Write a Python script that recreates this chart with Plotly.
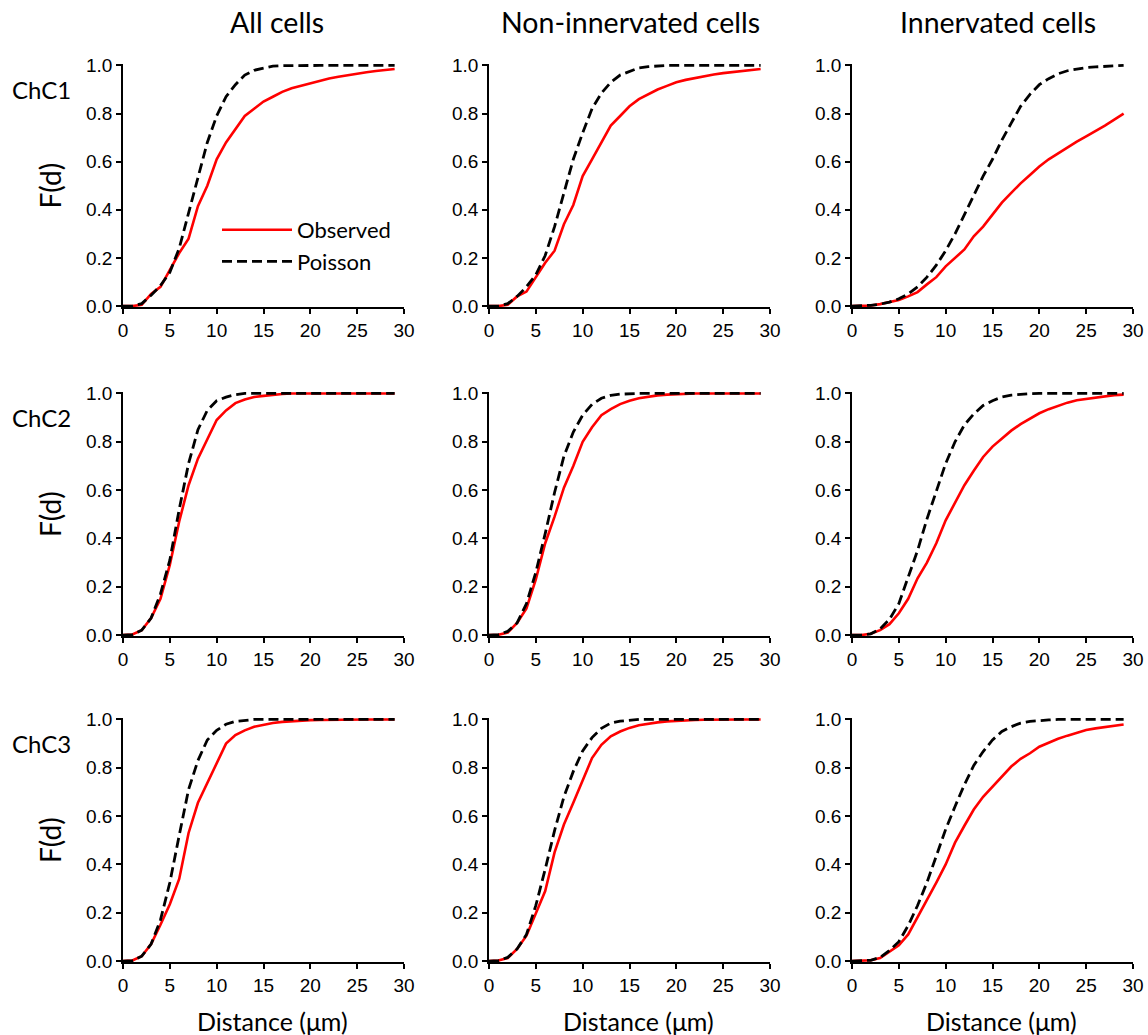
import plotly.graph_objects as go

# Nearest-neighbour distance (um) at which each cumulative F(d) value is sampled
distance = list(range(0, 30))

# ---- ChC1 ----
chc1_all_obs = [0, 0, 0.005, 0.05, 0.08, 0.15, 0.22, 0.28, 0.415, 0.50, 0.61, 0.68, 0.735, 0.79, 0.82,
                0.85, 0.87, 0.89, 0.905, 0.915, 0.928, 0.938, 0.946, 0.953, 0.96, 0.966, 0.972, 0.977, 0.981, 0.985]
chc1_all_poi = [0, 0, 0.01, 0.045, 0.085, 0.14, 0.24, 0.39, 0.54, 0.68, 0.79, 0.87, 0.92, 0.96, 0.98,
                0.99, 0.997, 0.999, 1, 1, 1, 1, 1, 1, 1, 1, 1, 1, 1, 1]
chc1_non_obs = [0, 0, 0.005, 0.04, 0.06, 0.12, 0.18, 0.23, 0.34, 0.42, 0.54, 0.61, 0.68, 0.75, 0.79,
                0.83, 0.86, 0.88, 0.90, 0.915, 0.93, 0.94, 0.948, 0.955, 0.962, 0.968, 0.973, 0.977, 0.981, 0.985]
chc1_non_poi = [0, 0, 0.01, 0.04, 0.08, 0.13, 0.21, 0.33, 0.47, 0.61, 0.72, 0.82, 0.885, 0.93, 0.96,
                0.975, 0.99, 0.995, 0.998, 1, 1, 1, 1, 1, 1, 1, 1, 1, 1, 1]
chc1_inn_obs = [0, 0, 0.002, 0.008, 0.015, 0.025, 0.04, 0.058, 0.09, 0.12, 0.165, 0.20, 0.235, 0.29, 0.33,
                0.38, 0.43, 0.47, 0.51, 0.545, 0.58, 0.61, 0.635, 0.66, 0.683, 0.705, 0.727, 0.75, 0.775, 0.80]
chc1_inn_poi = [0, 0, 0.003, 0.008, 0.016, 0.03, 0.05, 0.08, 0.12, 0.17, 0.23, 0.30, 0.38, 0.46, 0.54,
                0.61, 0.69, 0.76, 0.83, 0.88, 0.92, 0.945, 0.965, 0.978, 0.986, 0.991, 0.994, 0.997, 0.999, 1.0]

# ---- ChC2 ----
chc2_all_obs = [0, 0.002, 0.02, 0.07, 0.15, 0.29, 0.47, 0.62, 0.73, 0.81, 0.89, 0.93, 0.96, 0.975, 0.985,
                0.99, 0.995, 0.998, 1, 1, 1, 1, 1, 1, 1, 1, 1, 1, 1, 1]
chc2_all_poi = [0, 0.002, 0.02, 0.07, 0.17, 0.31, 0.52, 0.71, 0.85, 0.93, 0.97, 0.985, 0.995, 1, 1,
                1, 1, 1, 1, 1, 1, 1, 1, 1, 1, 1, 1, 1, 1, 1]
chc2_non_obs = [0, 0.001, 0.01, 0.05, 0.11, 0.23, 0.38, 0.49, 0.61, 0.70, 0.80, 0.86, 0.91, 0.935, 0.956,
                0.97, 0.98, 0.987, 0.992, 0.995, 0.997, 1, 1, 1, 1, 1, 1, 1, 1, 1]
chc2_non_poi = [0, 0.002, 0.015, 0.05, 0.13, 0.26, 0.42, 0.59, 0.74, 0.84, 0.91, 0.955, 0.98, 0.992, 0.997,
                1, 1, 1, 1, 1, 1, 1, 1, 1, 1, 1, 1, 1, 1, 1]
chc2_inn_obs = [0, 0, 0.005, 0.02, 0.045, 0.09, 0.15, 0.235, 0.30, 0.38, 0.475, 0.55, 0.62, 0.68, 0.737,
                0.78, 0.815, 0.846, 0.873, 0.895, 0.918, 0.935, 0.95, 0.962, 0.972, 0.977, 0.984, 0.989, 0.993, 0.995]
chc2_inn_poi = [0, 0, 0.005, 0.025, 0.065, 0.13, 0.24, 0.35, 0.48, 0.60, 0.71, 0.80, 0.87, 0.915, 0.95,
                0.97, 0.985, 0.993, 0.997, 0.999, 1, 1, 1, 1, 1, 1, 1, 1, 1, 1]

# ---- ChC3 ----
chc3_all_obs = [0, 0.002, 0.02, 0.07, 0.15, 0.235, 0.34, 0.53, 0.655, 0.737, 0.82, 0.90, 0.935, 0.955, 0.97,
                0.978, 0.985, 0.99, 0.993, 0.995, 0.997, 0.998, 0.999, 1, 1, 1, 1, 1, 1, 1]
chc3_all_poi = [0, 0.002, 0.02, 0.07, 0.17, 0.325, 0.52, 0.71, 0.83, 0.915, 0.955, 0.98, 0.992, 0.997, 1,
                1, 1, 1, 1, 1, 1, 1, 1, 1, 1, 1, 1, 1, 1, 1]
chc3_non_obs = [0, 0.002, 0.012, 0.05, 0.105, 0.20, 0.29, 0.45, 0.565, 0.655, 0.745, 0.84, 0.895, 0.93, 0.95,
                0.965, 0.976, 0.983, 0.988, 0.992, 0.995, 0.997, 0.998, 0.999, 1, 1, 1, 1, 1, 1]
chc3_non_poi = [0, 0.002, 0.015, 0.05, 0.11, 0.23, 0.38, 0.54, 0.68, 0.785, 0.87, 0.925, 0.963, 0.985, 0.993,
                0.997, 1, 1, 1, 1, 1, 1, 1, 1, 1, 1, 1, 1, 1, 1]
chc3_inn_obs = [0, 0, 0.003, 0.012, 0.037, 0.065, 0.11, 0.18, 0.25, 0.325, 0.40, 0.49, 0.56, 0.627, 0.68,
                0.723, 0.764, 0.805, 0.837, 0.86, 0.887, 0.905, 0.92, 0.933, 0.944, 0.956, 0.963, 0.969, 0.974, 0.979]
chc3_inn_poi = [0, 0, 0.003, 0.015, 0.044, 0.08, 0.147, 0.23, 0.325, 0.435, 0.545, 0.64, 0.73, 0.81, 0.867,
                0.915, 0.95, 0.97, 0.985, 0.992, 0.996, 0.998, 1, 1, 1, 1, 1, 1, 1, 1]

column_titles = ["All cells", "Non-innervated cells", "Innervated cells"]
row_labels = ["ChC1", "ChC2", "ChC3"]
x_ticks = [0, 5, 10, 15, 20, 25, 30]
y_ticks = [0.0, 0.2, 0.4, 0.6, 0.8, 1.0]

panels = [
    [(chc1_all_obs, chc1_all_poi), (chc1_non_obs, chc1_non_poi), (chc1_inn_obs, chc1_inn_poi)],
    [(chc2_all_obs, chc2_all_poi), (chc2_non_obs, chc2_non_poi), (chc2_inn_obs, chc2_inn_poi)],
    [(chc3_all_obs, chc3_all_poi), (chc3_non_obs, chc3_non_poi), (chc3_inn_obs, chc3_inn_poi)],
]

W, H = 1148, 1035


def px(xp):
    return xp / W


def py(yp):
    return 1 - yp / H


# panel boxes in pixels: (left, right) and (top, bottom)
col_px = [(123, 404), (489, 770), (852, 1133)]
row_px = [(64, 307), (392, 636), (718, 962)]
title_shift = [13.5, 0.5, 5.5]

TICK_FONT = dict(family="Liberation Sans, Arial, sans-serif", size=19, color="black")
LABEL_FAMILY = "Lato, Carlito, Calibri, sans-serif"

fig = go.Figure()
layout = dict(
    width=W, height=H,
    margin=dict(l=0, r=0, t=0, b=0, autoexpand=False),
    paper_bgcolor="white", plot_bgcolor="white",
    showlegend=True,
    legend=dict(
        x=px(217), y=py(209), xanchor="left", yanchor="top",
        font=dict(family=LABEL_FAMILY, size=22, color="black"),
        bgcolor="rgba(0,0,0,0)", itemwidth=70, tracegroupgap=0,
    ),
    annotations=[], font=dict(family="Liberation Sans, Arial, sans-serif"),
)

for r in range(3):
    for c in range(3):
        idx = r * 3 + c + 1
        xa = "xaxis" if idx == 1 else f"xaxis{idx}"
        ya = "yaxis" if idx == 1 else f"yaxis{idx}"
        xref = "x" if idx == 1 else f"x{idx}"
        yref = "y" if idx == 1 else f"y{idx}"
        obs, poi = panels[r][c]
        first = (r == 0 and c == 0)
        fig.add_trace(go.Scatter(
            x=distance, y=obs, mode="lines", name="Observed",
            line=dict(color="#ff0000", width=2.6), showlegend=first,
            xaxis=xref, yaxis=yref,
        ))
        fig.add_trace(go.Scatter(
            x=distance, y=poi, mode="lines", name="Poisson",
            line=dict(color="black", width=2.8, dash="10px,5px"), showlegend=first,
            xaxis=xref, yaxis=yref,
        ))
        x0, x1 = col_px[c]
        t, b = row_px[r]
        common = dict(
            showgrid=False, zeroline=False, showline=True, linecolor="black", linewidth=1.6,
            ticks="outside", ticklen=5, tickwidth=1.6, tickcolor="black",
            tickfont=TICK_FONT, fixedrange=True, automargin=False,
        )
        layout[xa] = dict(
            domain=[px(x0), px(x1)], anchor=yref, range=[0, 30],
            tickvals=x_ticks, ticktext=[str(v) for v in x_ticks], **common,
        )
        layout[ya] = dict(
            domain=[py(b), py(t)], anchor=xref, range=[-0.004, 1.006],
            tickvals=y_ticks, ticktext=[f"{v:.1f}" for v in y_ticks], **common,
        )
        if c == 0:
            layout["annotations"].append(dict(
                text="F(d)", xref="paper", yref="paper", x=px(50), y=py((t + b) / 2),
                textangle=-90, showarrow=False, xanchor="center", yanchor="middle",
                font=dict(family=LABEL_FAMILY, size=28, color="black"),
            ))
            layout["annotations"].append(dict(
                text=row_labels[r], xref="paper", yref="paper", x=px(10), y=py(t + 25.5),
                showarrow=False, xanchor="left", yanchor="middle",
                font=dict(family=LABEL_FAMILY, size=24, color="black"),
            ))
        if r == 0:
            layout["annotations"].append(dict(
                text=column_titles[c], xref="paper", yref="paper",
                x=px((x0 + x1) / 2 + title_shift[c]), y=py(22),
                showarrow=False, xanchor="center", yanchor="middle",
                font=dict(family=LABEL_FAMILY, size=28.5, color="black"),
            ))
        if r == 2:
            layout["annotations"].append(dict(
                text="Distance (\u03bcm)", xref="paper", yref="paper",
                x=px((x0 + x1) / 2 + 8.5), y=py(1020.5),
                showarrow=False, xanchor="center", yanchor="middle",
                font=dict(family=LABEL_FAMILY, size=25, color="black"),
            ))

fig.update_layout(**layout)
fig.write_html("out.html")
